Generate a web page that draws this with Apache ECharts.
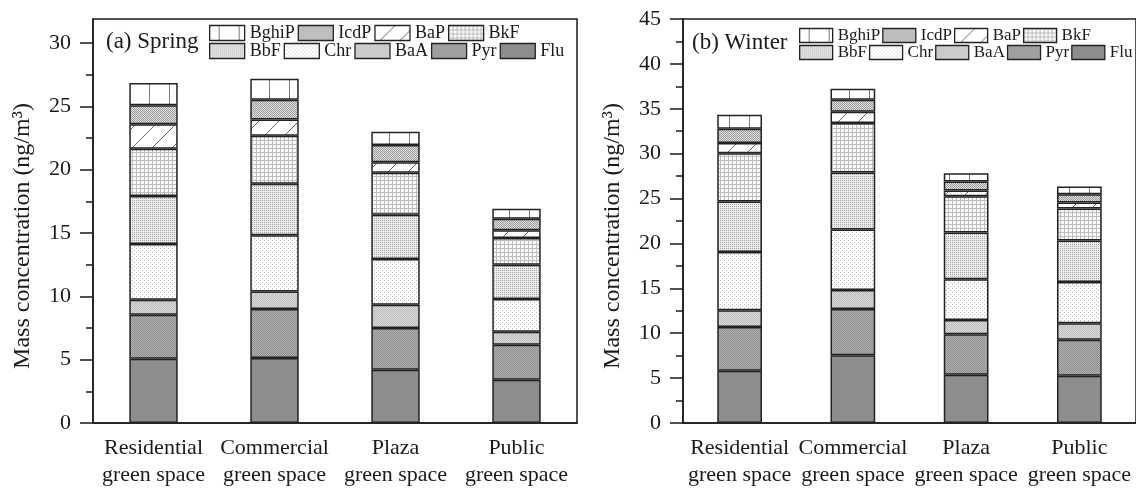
<!DOCTYPE html>
<html>
<head>
<meta charset="utf-8">
<script src="https://cdn.jsdelivr.net/npm/echarts@6/dist/echarts.min.js"></script>
<style>
html,body{margin:0;padding:0;background:#fff;}
#chart{width:1136px;height:489px;}
</style>
</head>
<body>
<div id="chart"></div>
<script>
// ---------- data ----------
const categories = ['Residential\ngreen space', 'Commercial\ngreen space', 'Plaza\ngreen space', 'Public\ngreen space'];
const components = ['Flu', 'Pyr', 'BaA', 'Chr', 'BbF', 'BkF', 'BaP', 'IcdP', 'BghiP'];
const legendRow1 = ['BghiP', 'IcdP', 'BaP', 'BkF'];
const legendRow2 = ['BbF', 'Chr', 'BaA', 'Pyr', 'Flu'];

const springFlu   = [5.08, 5.13, 4.21, 3.42];
const springPyr   = [3.47, 3.87, 3.29, 2.76];
const springBaA   = [1.19, 1.39, 1.84, 1.03];
const springChr   = [4.39, 4.43, 3.61, 2.58];
const springBbF   = [3.79, 4.07, 3.50, 2.71];
const springBkF   = [3.74, 3.79, 3.31, 2.10];
const springBaP   = [1.92, 1.29, 0.82, 0.61];
const springIcdP  = [1.50, 1.56, 1.37, 0.92];
const springBghiP = [1.76, 1.65, 1.05, 0.79];

const winterFlu   = [5.81, 7.56, 5.37, 5.26];
const winterPyr   = [4.89, 5.14, 4.52, 4.00];
const winterBaA   = [1.86, 2.11, 1.59, 1.85];
const winterChr   = [6.48, 6.75, 4.52, 4.59];
const winterBbF   = [5.63, 6.33, 5.22, 4.63];
const winterBkF   = [5.37, 5.52, 4.04, 3.56];
const winterBaP   = [1.15, 1.26, 0.63, 0.67];
const winterIcdP  = [1.59, 1.33, 1.00, 0.92];
const winterBghiP = [1.55, 1.22, 0.92, 0.85];

const springMajorTicks = [0, 5, 10, 15, 20, 25, 30];
const springMinorTicks = [2.5, 7.5, 12.5, 17.5, 22.5, 27.5];
const winterMajorTicks = [0, 5, 10, 15, 20, 25, 30, 35, 40, 45];
const winterMinorTicks = [2.5, 7.5, 12.5, 17.5, 22.5, 27.5, 32.5, 37.5, 42.5];

const springData = {Flu: springFlu, Pyr: springPyr, BaA: springBaA, Chr: springChr, BbF: springBbF, BkF: springBkF, BaP: springBaP, IcdP: springIcdP, BghiP: springBghiP};
const winterData = {Flu: winterFlu, Pyr: winterPyr, BaA: winterBaA, Chr: winterChr, BbF: winterBbF, BkF: winterBkF, BaP: winterBaP, IcdP: winterIcdP, BghiP: winterBghiP};

// ---------- patterns ----------
function tile(w, h, draw) {
  const c = document.createElement('canvas');
  c.width = w; c.height = h;
  const ctx = c.getContext('2d');
  draw(ctx, w, h);
  return {image: c, repeat: 'repeat'};
}
function px(ctx, x, y, col) { ctx.fillStyle = col; ctx.fillRect(x, y, 1, 1); }
function dots(step, bg, fg, offsets) {
  return tile(step, step, (ctx, w, h) => {
    ctx.fillStyle = bg; ctx.fillRect(0, 0, w, h);
    offsets.forEach(o => px(ctx, o[0], o[1], fg));
  });
}
const patterns = {
  BghiP: tile(20, 20, (ctx, w, h) => { ctx.fillStyle = '#fff'; ctx.fillRect(0, 0, w, h); ctx.fillStyle = '#7a7a7a'; ctx.fillRect(9, 0, 1, h); }),
  IcdP: dots(2, '#e2e2e2', '#9a9a9a', [[0, 0], [1, 1]]),
  BaP: tile(20, 20, (ctx, w, h) => { ctx.fillStyle = '#fff'; ctx.fillRect(0, 0, w, h); ctx.strokeStyle = '#6a6a6a'; ctx.lineWidth = 1; ctx.beginPath(); ctx.moveTo(-1, h + 1); ctx.lineTo(w + 1, -1); ctx.stroke(); }),
  BkF: tile(4, 4, (ctx, w, h) => { ctx.fillStyle = '#f8f8f8'; ctx.fillRect(0, 0, w, h); ctx.fillStyle = '#bdbdbd'; ctx.fillRect(0, 0, w, 1); ctx.fillRect(0, 0, 1, h); }),
  BbF: dots(4, '#ececec', '#a4a4a4', [[0, 0], [2, 2], [2, 0], [0, 2]]),
  Chr: dots(4, '#fdfdfd', '#bdbdbd', [[0, 0], [2, 2]]),
  BaA: dots(2, '#dadada', '#bcbcbc', [[0, 0], [1, 1]]),
  Pyr: dots(2, '#b0b0b0', '#8e8e8e', [[0, 0], [1, 1]]),
  Flu: '#8d8d8d'
};

// ---------- option ----------
const FONT = 'Liberation Serif';
const INK = '#1a1a1a';

function makeSeries(dataMap, stack, axisIdx, barW) {
  return components.map(name => ({
    name: name,
    type: 'bar',
    stack: stack,
    xAxisIndex: axisIdx,
    yAxisIndex: axisIdx * 2,
    barWidth: barW,
    data: dataMap[name],
    itemStyle: {color: patterns[name], borderColor: '#222', borderWidth: 1.5},
    emphasis: {disabled: true},
    animation: false
  }));
}

function valueAxis(gridIdx, max, major, withLabel) {
  return {
    type: 'value', gridIndex: gridIdx, min: 0, max: max, interval: 5,
    position: 'left',
    name: withLabel ? 'Mass concentration (ng/m³)' : '',
    nameLocation: 'middle', nameGap: 58,
    nameTextStyle: {fontFamily: FONT, fontSize: 24, color: INK, padding: [0, 30, 0, 0]},
    axisLine: {show: withLabel, lineStyle: {color: INK, width: 1.5}},
    axisTick: {show: true, inside: false, length: withLabel ? 13 : 7, customValues: major, lineStyle: {color: INK, width: 1.5}},
    axisLabel: {show: withLabel, margin: 22, customValues: major, fontFamily: FONT, fontSize: 22, color: INK},
    splitLine: {show: false}
  };
}

function catAxis(gridIdx) {
  return {
    type: 'category', gridIndex: gridIdx, data: categories,
    axisLine: {lineStyle: {color: INK, width: 1.5}},
    axisTick: {alignWithLabel: true, length: 10, lineStyle: {color: INK, width: 1.5}},
    axisLabel: {margin: 12, fontFamily: FONT, fontSize: 22, lineHeight: 27, color: INK, interval: 0}
  };
}

function legends(left, top1, top2, w, h, fs, gap) {
  const base = {
    orient: 'horizontal', padding: 0, itemGap: gap, itemWidth: w, itemHeight: h, icon: 'rect',
    width: 420, selectedMode: false,
    textStyle: {fontFamily: FONT, fontSize: fs, color: INK},
    itemStyle: {borderColor: '#222', borderWidth: 1.3}
  };
  return [
    Object.assign({}, base, {left: left, top: top1, data: legendRow1}),
    Object.assign({}, base, {left: left, top: top2, data: legendRow2})
  ];
}

const option = {
  backgroundColor: '#fff',
  animation: false,
  title: [
    {text: '(a) Spring', left: 106, top: 30, padding: 0, textStyle: {fontFamily: FONT, fontSize: 23, fontWeight: 'normal', color: INK}},
    {text: '(b) Winter', left: 692, top: 31, padding: 0, textStyle: {fontFamily: FONT, fontSize: 23, fontWeight: 'normal', color: INK}}
  ],
  legend: legends(209, 24, 42, 35, 15, 18, 3).concat(legends(799, 27, 44, 33, 14, 17, 2)),
  grid: [
    {left: 93, top: 19, width: 484, height: 404, show: true, borderColor: INK, borderWidth: 1.5, backgroundColor: 'transparent'},
    {left: 683, top: 19, width: 458, height: 404, show: true, borderColor: INK, borderWidth: 1.5, backgroundColor: 'transparent'}
  ],
  xAxis: [catAxis(0), catAxis(1)],
  yAxis: [
    valueAxis(0, 31.9, springMajorTicks, true),
    valueAxis(0, 31.9, springMinorTicks, false),
    valueAxis(1, 45, winterMajorTicks, true),
    valueAxis(1, 45, winterMinorTicks, false)
  ],
  series: makeSeries(springData, 'spring', 0, '40%').concat(makeSeries(winterData, 'winter', 1, '39.5%'))
};

const chart = echarts.init(document.getElementById('chart'), null, {renderer: 'canvas'});
chart.setOption(option);
</script>
</body>
</html>
